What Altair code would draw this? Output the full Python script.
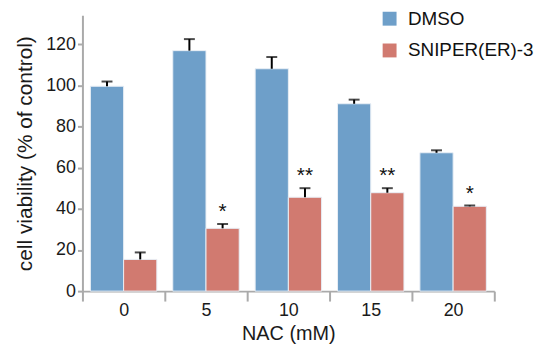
import altair as alt
import pandas as pd

nac = ["0", "5", "10", "15", "20"]
groups = ["DMSO", "SNIPER(ER)-3"]
dmso = [99.5, 116.8, 108.0, 91.0, 67.2]
dmso_err = [101.8, 122.4, 113.7, 93.0, 68.4]
sniper = [15.4, 30.5, 45.6, 47.8, 41.2]
sniper_err = [18.8, 32.6, 50.0, 50.0, 41.6]
stars = ["", "*", "**", "**", "*"]

rows = []
for i, n in enumerate(nac):
    rows.append({"NAC": n, "group": groups[0], "value": dmso[i], "top": dmso_err[i], "star": ""})
    rows.append({"NAC": n, "group": groups[1], "value": sniper[i], "top": sniper_err[i], "star": stars[i]})
df = pd.DataFrame(rows)

FONT = "Liberation Sans"
colors = ["#6E9FC9", "#D17A70"]

x = alt.X("NAC:N", sort=nac, title="NAC (mM)",
          scale=alt.Scale(paddingInner=0, paddingOuter=0),
          axis=alt.Axis(tickBand="extent", labelAngle=0, tickSize=10,
                        labelPadding=1, titlePadding=4, titleFontSize=20))
xo = alt.XOffset("group:N", sort=groups,
                 scale=alt.Scale(paddingInner=0, paddingOuter=0.24))
y_scale = alt.Scale(domain=[0, 134], nice=False)
y_axis = alt.Axis(values=[0, 20, 40, 60, 80, 100, 120], tickSize=5, labelPadding=2,
                  titlePadding=10, titleFontSize=21)
YT = "cell viability (% of control)"

base = alt.Chart(df)

bars = base.mark_bar(stroke="#e8eef5", strokeWidth=1).encode(
    x=x, xOffset=xo,
    y=alt.Y("value:Q", scale=y_scale, title=YT, axis=y_axis),
    color=alt.Color("group:N", sort=groups,
                    scale=alt.Scale(domain=groups, range=colors),
                    legend=alt.Legend(title=None, orient="none", legendX=300, legendY=-6,
                                      symbolType="square", symbolSize=196,
                                      symbolStrokeWidth=0, labelFontSize=19,
                                      labelFont=FONT, labelColor="#111",
                                      rowPadding=12, labelOffset=9)),
)

err = base.mark_rule(color="black", strokeWidth=2).encode(
    x=x, xOffset=xo,
    y=alt.Y("value:Q", scale=y_scale, title=YT, axis=y_axis),
    y2="top:Q")
cap = base.mark_tick(color="black", thickness=2, size=11).encode(
    x=x, xOffset=xo,
    y=alt.Y("top:Q", scale=y_scale, title=YT, axis=y_axis))
txt = base.mark_text(baseline="bottom", dy=-2, fontSize=21, font=FONT, color="#111").encode(
    x=x, xOffset=xo,
    y=alt.Y("top:Q", scale=y_scale, title=YT, axis=y_axis),
    text="star:N")

chart = alt.layer(bars, err, cap, txt).properties(
    width=415, height=278,
    padding={"left": 6, "top": 0, "right": 0, "bottom": 0}
).configure_view(stroke=None).configure_axis(
    labelFontSize=18, labelFont=FONT, titleFont=FONT,
    labelColor="#1a1a1a", titleColor="#1a1a1a", titleFontWeight="normal",
    domainColor="#aaa", tickColor="#aaa", domainWidth=2, tickWidth=2, grid=False
)

chart.save("out.html", embed_options={"renderer": "svg", "actions": False})
